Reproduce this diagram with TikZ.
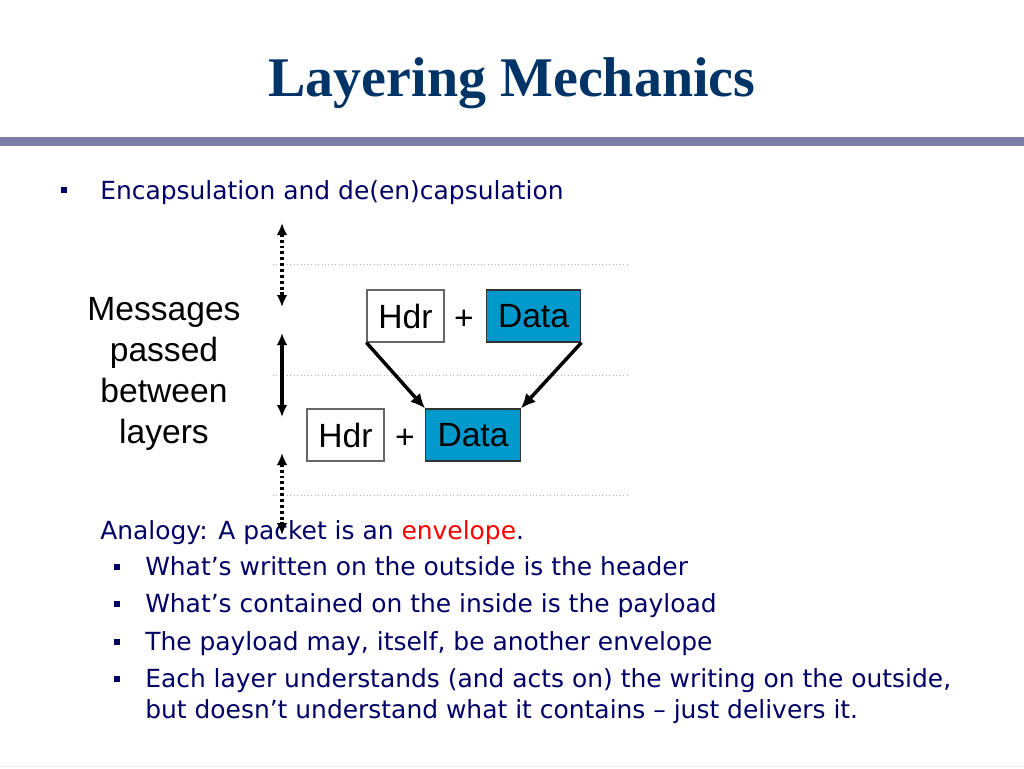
\documentclass[tikz,border=0pt]{standalone}
\usepackage{fontspec}
\usetikzlibrary{arrows.meta}
\setmainfont{DejaVu Sans}
\newfontfamily\titlefont{Liberation Serif}
\newfontfamily\boxfont{Liberation Sans}
\definecolor{slideblue}{RGB}{0,0,102}
\definecolor{titleblue}{RGB}{0,51,102}
\definecolor{barpurple}{RGB}{124,124,168}
\definecolor{datablue}{RGB}{0,153,204}
\tikzset{hdr/.style={draw=black!60, line width=0.9pt, fill=white,
         minimum width=57.75pt, minimum height=39pt, inner sep=0pt,
         font=\boxfont\fontsize{25.2}{28}\selectfont},
         data/.style={hdr, draw=black!80, fill=datablue, minimum width=71pt},
         sq/.style={fill=slideblue, minimum size=3.9pt, inner sep=0pt},
         body/.style={anchor=base west, text=slideblue, inner sep=0pt,
         font=\fontsize{18.7}{22}\selectfont},
         sep/.style={draw=black!30, dotted, line width=0.6pt},
         link/.style={-{Latex[length=11pt,width=10pt]}, line width=2.6pt},
         dotarrow/.style={{Latex[length=9pt,width=8pt]}-{Latex[length=9pt,width=8pt]},
         dash pattern=on 2.2pt off 2.2pt, line width=2.6pt},
         solidarrow/.style={{Latex[length=9pt,width=8pt]}-{Latex[length=9pt,width=8pt]},
         line width=2.6pt}}

\begin{document}
\begin{tikzpicture}[x=0.75pt,y=-0.75pt]
  \fill[white] (0,0) rectangle (1024,768);
  \useasboundingbox (0,0) rectangle (1024,768);

  \node[anchor=base, text=titleblue, font=\titlefont\bfseries\fontsize{42}{50}\selectfont]
    (title) at (512,96) {Layering Mechanics};
  \fill[barpurple] (0,137) rectangle (1024,146);
  \draw[black!8] (0,766.5) -- (1024,766.5);

  \node[sq] (b0) at (64,190) {};
  \node[body] (enc) at (100,199) {Encapsulation and de(en)capsulation};

  \foreach \y in {264,375,495}
    \draw[sep] (273,\y) -- (630,\y);

  \foreach \t [count=\i] in {Messages,passed,between,layers}
    \node[anchor=base, font=\boxfont\fontsize{25.2}{28}\selectfont] (msg\i) at (164,279+41*\i) {\t};

  \node[hdr] (hdrA) at (405.5,316) {Hdr};
  \node[font=\boxfont\fontsize{25.2}{28}\selectfont] (plusA) at (464,320) {+};
  \node[data] (dataA) at (533.5,316) {Data};
  \node[hdr] (hdrB) at (345.5,435) {Hdr};
  \node[font=\boxfont\fontsize{25.2}{28}\selectfont] (plusB) at (405,439) {+};
  \node[data] (dataB) at (473,435) {Data};

  \draw[link] (hdrA.south west) -- (dataB.north west);
  \draw[link] (dataA.south east) -- (dataB.north east);

  \node[body] (ana) at (100,539) {Analogy: A packet is an \textcolor{red}{envelope}.};
  \foreach \y in {567,604,642,679}
    \node[sq] (sb\y) at (117,\y) {};
  \node[body] (pt1) at (145,575) {What’s written on the outside is the header};
  \node[body] (pt2) at (145,612) {What’s contained on the inside is the payload};
  \node[body] (pt3) at (145,650) {The payload may, itself, be another envelope};
  \node[body] (pt4) at (145,687) {Each layer understands (and acts on) the writing on the outside,};
  \node[body] (pt5) at (145,718) {but doesn’t understand what it contains – just delivers it.};

  \coordinate (topA) at (282,223);
  \coordinate (topB) at (282,307);
  \coordinate (midA) at (282,333);
  \coordinate (midB) at (282,417);
  \coordinate (lowA) at (282,453);
  \coordinate (lowB) at (282,535);
  \draw[dotarrow] (topA) -- (topB);
  \draw[solidarrow] (midA) -- (midB);
  \draw[dotarrow] (lowA) -- (lowB);
\end{tikzpicture}
\end{document}
